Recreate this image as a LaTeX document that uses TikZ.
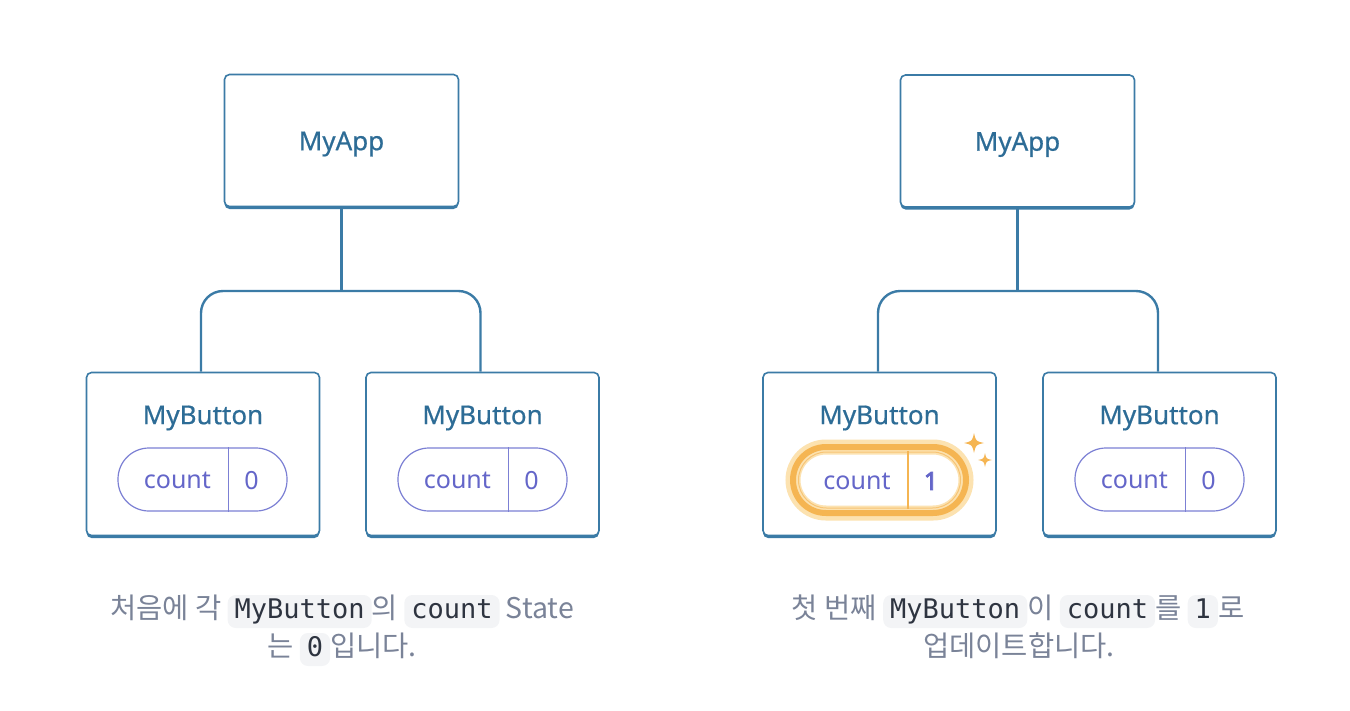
\documentclass[tikz,border=0pt]{standalone}
\usepackage{fontspec}
\setmainfont{Noto Sans}
\newfontfamily\titlefont[FakeBold=0.6]{Noto Sans}
\newfontfamily\numfont[FakeBold=3]{Noto Sans}
\newfontfamily\krfont{Noto Sans CJK KR}
\newfontfamily\codefont{DejaVu Sans Mono}
\usetikzlibrary{calc}
\definecolor{bordc}{HTML}{3B7BA6}
\definecolor{titlec}{HTML}{2D6C96}
\definecolor{pillc}{HTML}{7C80D4}
\definecolor{pilltxt}{HTML}{6466C9}
\definecolor{capc}{HTML}{7A8398}
\definecolor{codebg}{HTML}{F3F4F6}
\definecolor{codetxt}{HTML}{2E3440}
\definecolor{glowc}{HTML}{FCE2B0}
\definecolor{orc}{HTML}{F5B552}
\tikzset{
  compbox/.style={draw=bordc, line width=1.6pt, fill=white, rounded corners=5pt,
    preaction={fill=bordc, transform canvas={yshift=-2.5pt}}, inner sep=0pt},
  conn/.style={draw=bordc, line width=2.4pt},
  titletxt/.style={text=titlec, font={\titlefont\fontsize{26}{30}\selectfont}},
  pillbox/.style={draw=pillc, line width=1.2pt, rounded corners=31pt, minimum width=169pt, minimum height=63pt, inner sep=0pt},
  pilltext/.style={text=pilltxt, font=\fontsize{25}{29}\selectfont, inner sep=0pt},
  codebox/.style={fill=codebg, rounded corners=8pt, inner xsep=7pt, inner ysep=4pt,
    text height=19pt, text depth=6pt, text=codetxt, font={\codefont\fontsize{27}{31}\selectfont}},
  captxt/.style={text=capc, font={\krfont\fontsize{28.5}{32}\selectfont}, inner sep=0pt, anchor=base},
}
\newcommand\cbx[2]{\tikz[baseline=0pt]\node[codebox,anchor=base](#1) at (0,0) {#2};}
\begin{document}
\begin{tikzpicture}[x=1pt,y=-1pt]
\useasboundingbox (0,0) rectangle (1350,710);
% ---------- left tree ----------
\node[compbox, minimum width=234pt, minimum height=132pt] (appL) at (341.5,140.5) {};
\node[titletxt] (appLt) at (341.5,144) {MyApp};
\node[compbox, minimum width=233pt, minimum height=163pt] (bL1) at (203,454) {};
\node[compbox, minimum width=233pt, minimum height=163pt] (bL2) at (482.5,454) {};
\coordinate (busL) at (341,291);
\draw[conn] (appL.south) -- (appL.south |- busL);
\draw[conn, rounded corners=22pt] ([xshift=-2pt]bL1.north) -- ([xshift=-2pt]bL1.north |- busL) -- ([xshift=-2pt]bL2.north |- busL) -- ([xshift=-2pt]bL2.north);
\node[titletxt] (bL1t) at (203,418) {MyButton};
\node[titletxt] (bL2t) at (482.5,418) {MyButton};
\node[pillbox] (pL1) at (202.5,479.5) {};
\draw[pillc, line width=1.2pt] ($(pL1.north west)+(111,0)$) -- ($(pL1.south west)+(111,0)$);
\node[pilltext] (pL1c) at ($(pL1.west)+(60,1)$) {count};
\node[pilltext] (pL1v) at ($(pL1.west)+(134,1)$) {0};
\node[pillbox] (pL2) at (482.5,479.5) {};
\draw[pillc, line width=1.2pt] ($(pL2.north west)+(111,0)$) -- ($(pL2.south west)+(111,0)$);
\node[pilltext] (pL2c) at ($(pL2.west)+(60,1)$) {count};
\node[pilltext] (pL2v) at ($(pL2.west)+(134,1)$) {0};
% ---------- right tree ----------
\node[compbox, minimum width=234pt, minimum height=132pt] (appR) at (1017.5,141) {};
\node[titletxt] (appRt) at (1017.5,144.5) {MyApp};
\node[compbox, minimum width=233pt, minimum height=163pt] (bR1) at (879.5,454) {};
\node[compbox, minimum width=233pt, minimum height=163pt] (bR2) at (1159.5,454) {};
\coordinate (busR) at (1018,291);
\draw[conn] (appR.south) -- (appR.south |- busR);
\draw[conn, rounded corners=22pt] ([xshift=-1.5pt]bR1.north) -- ([xshift=-1.5pt]bR1.north |- busR) -- ([xshift=-1.5pt]bR2.north |- busR) -- ([xshift=-1.5pt]bR2.north);
\node[titletxt] (bR1t) at (879.5,418) {MyButton};
\node[titletxt] (bR2t) at (1159.5,418) {MyButton};
% highlighted pill
\node[draw=orc, line width=6pt, rounded corners=33pt, minimum width=173pt, minimum height=66pt, inner sep=0pt,
  preaction={draw=glowc, line width=15pt}] (hR1) at (879.5,480) {};
\node[draw=orc!80, line width=1pt, rounded corners=28pt, minimum width=162pt, minimum height=56pt, inner sep=0pt] (hR1i) at (879.5,480) {};
\draw[orc, line width=2pt] ($(hR1.center)+(28.5,-29)$) -- ($(hR1.center)+(28.5,29)$);
\node[pilltext] (hR1c) at ($(hR1.center)+(-22.5,1)$) {count};
\node[pilltext, font={\numfont\fontsize{25}{29}\selectfont}] (hR1v) at ($(hR1.center)+(51.5,1)$) {1};
% sparkles
\fill[orc] (974,433) .. controls (975.8,441.2) .. (984,443) .. controls (975.8,444.8) .. (974,453) .. controls (972.2,444.8) .. (964,443) .. controls (972.2,441.2) .. (974,433) -- cycle;
\fill[orc] (985,453) .. controls (986.2,458.8) .. (992,460) .. controls (986.2,461.2) .. (985,467) .. controls (983.8,461.2) .. (978,460) .. controls (983.8,458.8) .. (985,453) -- cycle;
\node[pillbox] (pR2) at (1159.5,479.5) {};
\draw[pillc, line width=1.2pt] ($(pR2.north west)+(111,0)$) -- ($(pR2.south west)+(111,0)$);
\node[pilltext] (pR2c) at ($(pR2.west)+(60,1)$) {count};
\node[pilltext] (pR2v) at ($(pR2.west)+(134,1)$) {0};
% ---------- captions ----------
\node[captxt] (capL1) at (342,618) {처음에 각 \cbx{cbA}{MyButton}의 \cbx{cbB}{count} State};
\node[captxt] (capL2) at (342,656) {는 \cbx{cbC}{0}입니다.};
\node[captxt] (capR1) at (1018,618) {첫 번째 \cbx{cbD}{MyButton}이 \cbx{cbE}{count}를 \cbx{cbF}{1}로};
\node[captxt] (capR2) at (1019,656) {업데이트합니다.};
\end{tikzpicture}
\end{document}
